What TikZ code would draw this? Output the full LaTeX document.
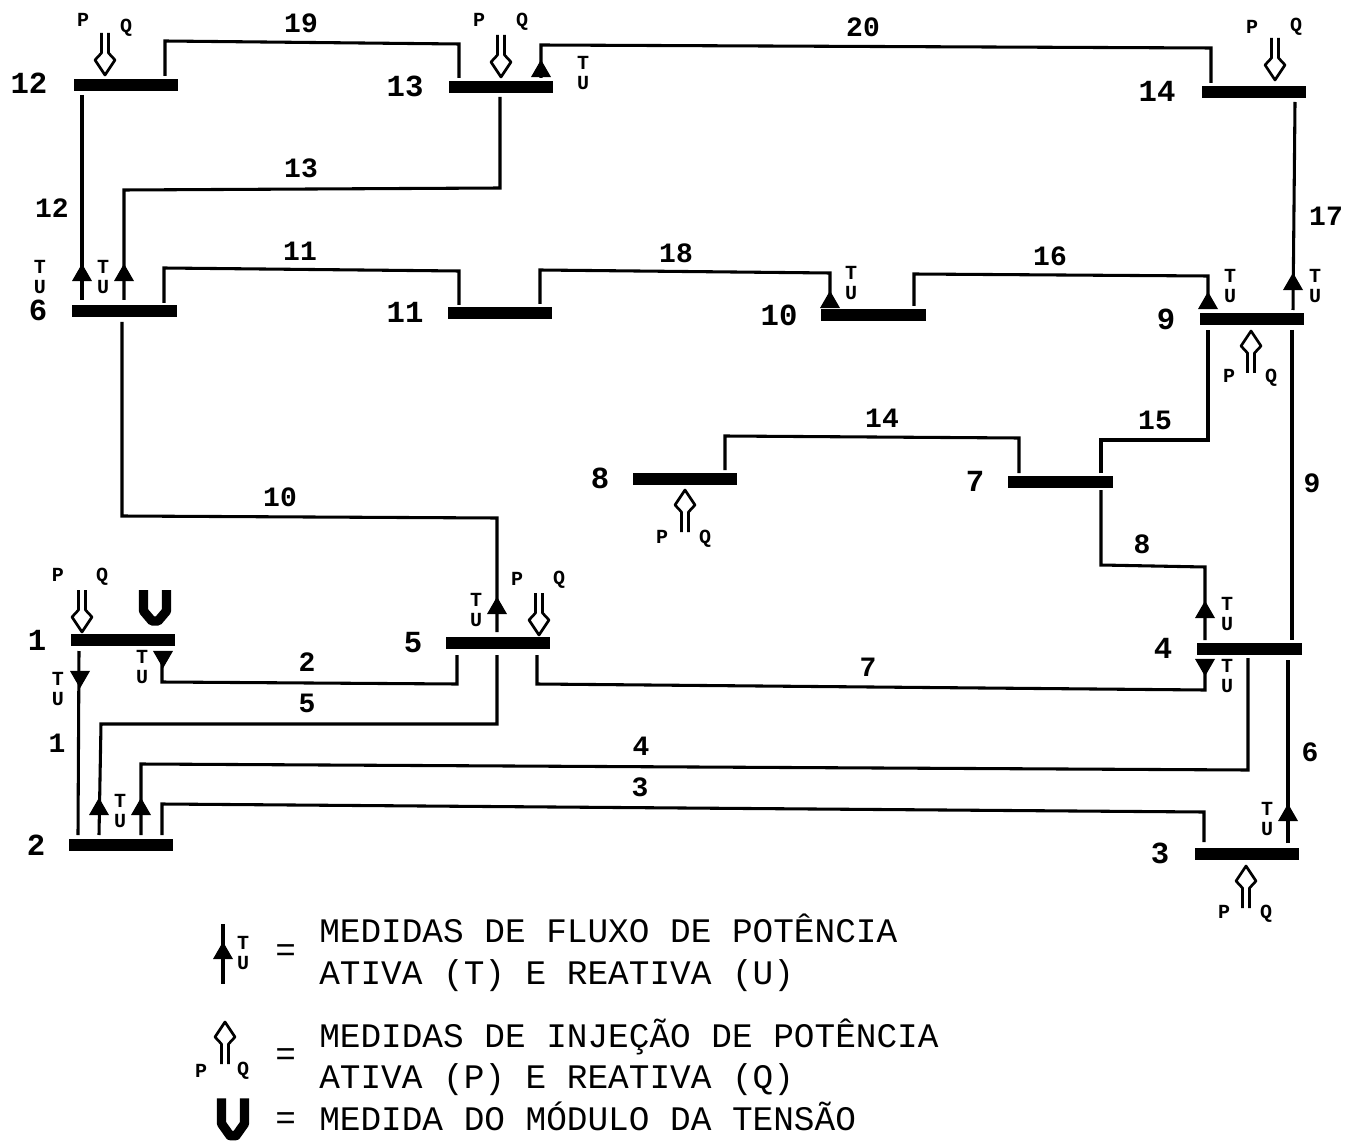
\documentclass[tikz,border=0pt]{standalone}
\usepackage{fontspec}
\setmainfont{Liberation Mono}
\usepackage{tikz}
\usetikzlibrary{calc,shapes.geometric}

\tikzset{
    bus/.style={fill=black, inner sep=0pt, minimum width=78.5pt, minimum height=9pt},
    line/.style={line width=2.3pt, line join=miter},
    flowup/.style={isosceles triangle, isosceles triangle stretches, shape border rotate=90, anchor=apex, fill=black, inner sep=0pt, minimum width=15pt, minimum height=13pt},
    flowdown/.style={flowup, shape border rotate=-90},
    busnum/.style={font=\bfseries\fontsize{23}{23}\selectfont},
    linenum/.style={font=\bfseries\fontsize{21}{21}\selectfont},
    smalltxt/.style={font=\bfseries\fontsize{15}{15.5}\selectfont, inner sep=0pt, align=center},
    legendtxt/.style={font=\fontsize{25.8}{26}\selectfont, anchor=west, inner sep=0pt, text height=17pt, text depth=0pt},
    injection/.pic={
        \draw[line width=2pt, fill=white, line join=round] (-3.5,-42) -- (-3.5,-22) -- (-10,-15) -- (0,0) -- (10,-15) -- (3.5,-22) -- (3.5,-42);
    },
    voltmark/.pic={
        \draw[line width=7pt, line join=round] (-11.5,-18) -- (-11.5,3) -- (-3,13) -- (3,13) -- (11.5,3) -- (11.5,-18);
    }
}

\begin{document}
\begin{tikzpicture}[x=0.75pt, y=-0.75pt]
    \useasboundingbox (0,0) rectangle (1358,1144);

    % Bars
    \node[bus] (b1) at (123,640) {};
    \node[bus] (b2) at (121,845) {};
    \node[bus] (b3) at (1247,854) {};
    \node[bus] (b4) at (1249.5,649) {};
    \node[bus] (b5) at (498,643) {};
    \node[bus] (b6) at (124.5,311) {};
    \node[bus] (b7) at (1060.5,482) {};
    \node[bus] (b8) at (685,479) {};
    \node[bus] (b9) at (1252,319) {};
    \node[bus] (b10) at (873.5,315) {};
    \node[bus] (b11) at (500,313) {};
    \node[bus] (b12) at (126,85) {};
    \node[bus] (b13) at (501,87) {};
    \node[bus] (b14) at (1254,92) {};

    % Bar numbers
    \node[busnum] (n1) at (37,640) {1};
    \node[busnum] (n2) at (36,845) {2};
    \node[busnum] (n3) at (1160,853) {3};
    \node[busnum] (n4) at (1163,648) {4};
    \node[busnum] (n5) at (413,643) {5};
    \node[busnum] (n6) at (38,310) {6};
    \node[busnum] (n7) at (975,481) {7};
    \node[busnum] (n8) at (600,478) {8};
    \node[busnum] (n9) at (1166,319) {9};
    \node[busnum] (n10) at (779,315) {10};
    \node[busnum] (n11) at (405,312) {11};
    \node[busnum] (n12) at (29,83) {12};
    \node[busnum] (n13) at (405,86) {13};
    \node[busnum] (n14) at (1157,91) {14};

    % Lines between bars
    \draw[line] ($(b1)+(-44,11)$) -- ($(b2)+(-43,-10)$);
    \draw[line] ($(b1)+(39,15)$) -- ++(0,27) -- ($(b5)+(-41,41)$) -- ($(b5)+(-41,12)$);
    \draw[line] ($(b2)+(41,-10)$) -- ++(0,-31) -- ($(b3)+(-43,-42)$) -- ($(b3)+(-43,-12)$);
    \draw[line] ($(b2)+(20,-10)$) -- ++(0,-71) -- ($(b4)+(-1.5,121)$) -- ($(b4)+(-1.5,9)$);
    \draw[line] ($(b2)+(-22,-10)$) -- ($(b2)+(-20,-121)$) -- ($(b5)+(-1,81)$) -- ($(b5)+(-1,12)$);
    \draw[line] ($(b3)+(41,-11)$) -- ($(b4)+(38.5,11)$);
    \draw[line] ($(b5)+(39,12)$) -- ++(0,29) -- ($(b4)+(-44.5,41)$) -- ($(b4)+(-44.5,11)$);
    \draw[line] ($(b7)+(40.5,8)$) -- ++(0,75) -- ($(b4)+(-44.5,-82)$) -- ($(b4)+(-44.5,-9)$);
    \draw[line] ($(b9)+(40,11)$) -- ($(b4)+(42.5,-9)$);
    \draw[line] ($(b6)+(-2.5,11)$) -- ++(0,194) -- ($(b5)+(-1,-125)$) -- ($(b5)+(-1,-11)$);
    \draw[line] ($(b6)+(39.5,-8)$) -- ++(0,-35) -- ($(b11)+(-41,-42)$) -- ($(b11)+(-41,-8)$);
    \draw[line] ($(b12)+(-44,10)$) -- ($(b6)+(-42.5,-11)$);
    \draw[line] ($(b13)+(-1,10)$) -- ++(0,91) -- ($(b6)+(-0.5,-121)$) -- ($(b6)+(-0.5,-11)$);
    \draw[line] ($(b8)+(40,-9)$) -- ++(0,-34) -- ($(b7)+(-41.5,-44)$) -- ($(b7)+(-41.5,-9)$);
    \draw[line] ($(b7)+(40.5,-9)$) -- ++(0,-33) -- ($(b9)+(-44,121)$) -- ($(b9)+(-44,11)$);
    \draw[line] ($(b10)+(40.5,-9)$) -- ++(0,-32) -- ($(b9)+(-44,-43)$) -- ($(b9)+(-44,-11)$);
    \draw[line] ($(b14)+(41,10)$) -- ($(b9)+(41,-9)$);
    \draw[line] ($(b11)+(40,-9)$) -- ++(0,-34) -- ($(b10)+(-43.5,-42)$) -- ($(b10)+(-43.5,-9)$);
    \draw[line] ($(b12)+(39,-9)$) -- ++(0,-35) -- ($(b13)+(-42,-43)$) -- ($(b13)+(-42,-9)$);
    \draw[line] ($(b13)+(40,-9)$) -- ++(0,-33) -- ($(b14)+(-43,-44)$) -- ($(b14)+(-43,-9)$);

    % Line numbers
    \node[linenum] (l1) at (57,743) {1};
    \node[linenum] (l2) at (307,662) {2};
    \node[linenum] (l3) at (640,787) {3};
    \node[linenum] (l4) at (641,746) {4};
    \node[linenum] (l5) at (307,703) {5};
    \node[linenum] (l6) at (1310,752) {6};
    \node[linenum] (l7) at (868,667) {7};
    \node[linenum] (l8) at (1142,544) {8};
    \node[linenum] (l9) at (1312,483) {9};
    \node[linenum] (l10) at (280,497) {10};
    \node[linenum] (l11) at (300,251) {11};
    \node[linenum] (l12) at (52,208) {12};
    \node[linenum] (l13) at (301,168) {13};
    \node[linenum] (l14) at (882,418) {14};
    \node[linenum] (l15) at (1155,420) {15};
    \node[linenum] (l16) at (1050,256) {16};
    \node[linenum] (l17) at (1326,216) {17};
    \node[linenum] (l18) at (676,253) {18};
    \node[linenum] (l19) at (301,23) {19};
    \node[linenum] (l20) at (863,27) {20};

    % Flow measurements
    \node[flowdown] (f1) at (80,689) {};
    \node[smalltxt] (t1) at (58,689) {T\\U};
    \node[flowdown] (f2) at (163,669) {};
    \node[smalltxt] (t2) at (142,667) {T\\U};
    \node[flowup] (f5) at (99,797) {};
    \node[flowup] (f4) at (141,797) {};
    \node[smalltxt] (t4) at (120,811) {T\\U};
    \node[flowup] (f6) at (1288,803) {};
    \node[smalltxt] (t6) at (1267,819) {T\\U};
    \node[flowdown] (f7) at (1205,677) {};
    \node[smalltxt] (t7) at (1227,676) {T\\U};
    \node[flowup] (f8) at (1205,600) {};
    \node[smalltxt] (t8) at (1227,614) {T\\U};
    \node[flowup] (f10) at (497,596) {};
    \node[smalltxt] (t10) at (476,610) {T\\U};
    \node[flowup] (f12) at (82,263) {};
    \node[smalltxt] (t12) at (40,277) {T\\U};
    \node[flowup] (f13) at (124,263) {};
    \node[smalltxt] (t13) at (103,277) {T\\U};
    \node[flowup] (f16) at (1208,291) {};
    \node[smalltxt] (t16) at (1230,286) {T\\U};
    \node[flowup] (f17) at (1293,272) {};
    \node[smalltxt] (t17) at (1315,286) {T\\U};
    \node[flowup] (f18) at (830,290) {};
    \node[smalltxt] (t18) at (851,283) {T\\U};
    \node[flowup] (f20) at (541,59) {};
    \node[smalltxt] (t20) at (583,73) {T\\U};

    % Injection measurements
    \pic at ($(b12)+(-21,-10)$) {injection};
    \node[smalltxt] (p12) at (83,20) {P};
    \node[smalltxt] (q12) at (126,28) {Q};
    \pic at ($(b13)+(0,-10)$) {injection};
    \node[smalltxt] (p13) at (479,20) {P};
    \node[smalltxt] (q13) at (522,22) {Q};
    \pic at ($(b14)+(21,-12)$) {injection};
    \node[smalltxt] (p14) at (1252,27) {P};
    \node[smalltxt] (q14) at (1296,27) {Q};
    \pic at ($(b1)+(-41,-8)$) {injection};
    \node[smalltxt] (p1) at (58,575) {P};
    \node[smalltxt] (q1) at (102,577) {Q};
    \pic at ($(b5)+(41,-8)$) {injection};
    \node[smalltxt] (p5) at (517,579) {P};
    \node[smalltxt] (q5) at (559,580) {Q};
    \pic[rotate=180] at ($(b9)+(-1,12)$) {injection};
    \node[smalltxt] (p9) at (1229,376) {P};
    \node[smalltxt] (q9) at (1271,378) {Q};
    \pic[rotate=180] at ($(b8)+(0,11)$) {injection};
    \node[smalltxt] (p8) at (662,537) {P};
    \node[smalltxt] (q8) at (705,539) {Q};
    \pic[rotate=180] at ($(b3)+(-1,12)$) {injection};
    \node[smalltxt] (p3) at (1224,912) {P};
    \node[smalltxt] (q3) at (1266,914) {Q};

    % Voltage magnitude
    \pic at (155,608) {voltmark};

    % Legend
    \node[flowup] (legflow) at (223,941) {};
    \draw[line] ($(legflow)+(0,-29)$) -- ($(legflow)+(0,31)$);
    \node[smalltxt] (legtu) at (243,953) {T\\U};
    \node[legendtxt] (eq1) at (275,950) {=};
    \node[legendtxt] (txt1) at (319,931) {MEDIDAS DE FLUXO DE POTÊNCIA};
    \node[legendtxt] (txt2) at (319,973) {ATIVA (T) E REATIVA (U)};

    \pic[rotate=180] at (225,1022) {injection};
    \node[smalltxt] (legp) at (201,1071) {P};
    \node[smalltxt] (legq) at (243,1071) {Q};
    \node[legendtxt] (eq2) at (275,1054) {=};
    \node[legendtxt] (txt3) at (319,1036) {MEDIDAS DE INJEÇÃO DE POTÊNCIA};
    \node[legendtxt] (txt4) at (319,1077) {ATIVA (P) E REATIVA (Q)};

    \pic[yscale=1.2] at (233,1120) {voltmark};
    \node[legendtxt] (eq3) at (275,1118) {=};
    \node[legendtxt] (txt5) at (319,1119) {MEDIDA DO MÓDULO DA TENSÃO};
\end{tikzpicture}
\end{document}
